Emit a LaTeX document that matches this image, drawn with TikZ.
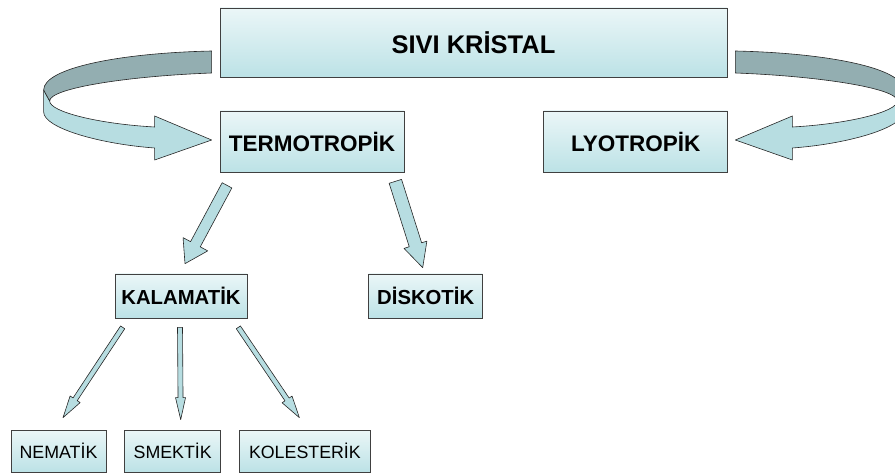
\documentclass[tikz,border=0pt]{standalone}
\usepackage{fontspec}
\setmainfont{Liberation Sans}
\usepackage{tikz}
\usetikzlibrary{positioning,calc}
\definecolor{boxcyan}{HTML}{BCE2E6}
\definecolor{ribbon}{HTML}{B7DDE1}
\definecolor{ribbondark}{HTML}{93AEB1}
\tikzstyle{block} = [rectangle, draw=black!75, line width=0.7pt, top color=boxcyan!30,
middle color=white, bottom color=boxcyan, inner sep=0pt, text centered]
\tikzstyle{top} = [block, font=\fontsize{25.5}{28}\selectfont\bfseries]
\tikzstyle{mid} = [block, font=\fontsize{22.5}{25}\selectfont\bfseries, minimum width=184pt, minimum height=61pt]
\tikzstyle{sub} = [block, font=\fontsize{20.3}{23}\selectfont\bfseries, minimum height=44pt]
\tikzstyle{leaf} = [block, font=\fontsize{17.8}{20}\selectfont, minimum height=42pt]
\tikzstyle{fat} = [draw=black!85, line width=0.6pt, fill=ribbon, line join=round]
% block arrow: from, tip, half shaft, half head, head length
\newcommand{\fatarrow}[5]{%
\draw [fat] ($(#1)!#3!90:(#2)$) -- ($(#2)!#5!(#1)!#3!90:(#2)$) -- ($(#2)!#5!(#1)!#4!90:(#2)$)
 -- (#2) -- ($(#2)!#5!(#1)!#4!-90:(#2)$) -- ($(#2)!#5!(#1)!#3!-90:(#2)$) -- ($(#1)!#3!-90:(#2)$) -- cycle;}
% curved ribbon arrow, local coordinates
\newcommand{\ribbonarrow}{%
\draw [fat] (-176,47.5) -- (-176,69.5) .. controls (-176,85.5) and (-120,101.5) .. (-65,105.5)
 -- (-65,117.5) -- (-8,97.5) -- (-65,73.5) -- (-65,84.5) .. controls (-120,81.5) and (-170,69.5) .. (-170,58.5) -- cycle;
\draw [fat, fill=ribbondark] (-8,8.5) .. controls (-100,10.5) and (-176,25.5) .. (-176,47.5)
 -- (-170,58.5) .. controls (-170,45.5) and (-90,33.5) .. (-8,30.5) -- cycle;}

\begin{document}
\begin{tikzpicture}[x=1pt, y=-1pt]
\useasboundingbox (0,0) rectangle (895,473);
    % nodes
\node [top, minimum width=507pt, minimum height=69pt] (sivi) at (473.5,42.5) {SIVI KRİSTAL};
\node [mid] (termo) at (312,141.5) {TERMOTROPİK};
\node [mid, right=139pt of termo] (lyo) {LYOTROPİK};
\node [sub, minimum width=132pt] (kala) at (181,296) {KALAMATİK};
\node [sub, minimum width=114pt, right=121pt of kala] (disko) {DİSKOTİK};
\node [leaf, minimum width=95pt] (nema) at (58.5,451) {NEMATİK};
\node [leaf, minimum width=96pt, right=18pt of nema] (smek) {SMEKTİK};
\node [leaf, minimum width=131pt, right=18pt of smek] (koles) {KOLESTERİK};

\coordinate (t1) at ($(termo.south)+(-85,13)$);
\coordinate (k1) at ($(kala.north)+(4,-10)$);
\coordinate (t2) at ($(termo.south east)+(-9,9)$);
\coordinate (d1) at ($(disko.north)+(-3,-6)$);
\coordinate (ka1) at ($(kala.south west)+(8,9)$);
\coordinate (n1) at ($(nema.north)+(4.5,-12)$);
\coordinate (ka2) at ($(kala.south)+(-1,9)$);
\coordinate (s1) at ($(smek.north)+(8,-10)$);
\coordinate (ka3) at ($(kala.south east)+(-9,9)$);
\coordinate (ko1) at ($(koles.north)+(-5.5,-12)$);

%edges
\begin{scope}[shift={(sivi.west)}]
\ribbonarrow
\end{scope}
\begin{scope}[shift={(sivi.east)}, xscale=-1]
\ribbonarrow
\end{scope}
\fatarrow{t1}{k1}{5.5pt}{14pt}{22pt}
\fatarrow{t2}{d1}{6.5pt}{12pt}{24pt}
\fatarrow{ka1}{n1}{2.5pt}{6pt}{22pt}
\fatarrow{ka2}{s1}{2.5pt}{5pt}{22pt}
\fatarrow{ka3}{ko1}{2.5pt}{6pt}{22pt}

   \end{tikzpicture}
\end{document}
